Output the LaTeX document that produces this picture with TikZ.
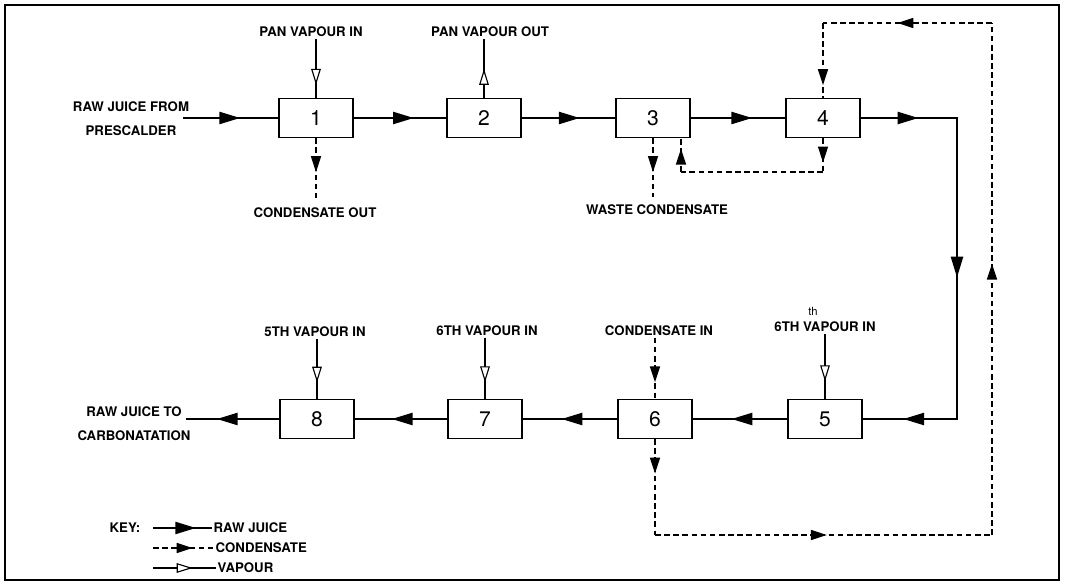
\documentclass[tikz,border=0pt]{standalone}
\usepackage{fontspec}
\setmainfont{TeX Gyre Heros}
\usepackage{tikz}
\usetikzlibrary{arrows.meta,decorations.markings,positioning}

\begin{document}
\begin{tikzpicture}[
    x=0.025cm, y=-0.025cm,
    every node/.style={font=\fontsize{9.4}{17}\selectfont\bfseries, inner sep=1pt},
    unit/.style={draw, line width=1pt, minimum width=1.85cm, minimum height=0.97cm,
        inner sep=0pt, font=\fontsize{15}{17}\selectfont},
    juice/.style={line width=1.6pt, postaction={decorate},
        decoration={markings, mark=at position #1 with {\arrow{Triangle[length=0.52cm,width=0.3cm]}}}},
    juice/.default=0.62,
    cond/.style={line width=1.1pt, dash pattern=on 4pt off 2.5pt, postaction={decorate},
        decoration={markings, mark=at position #1 with {\arrow{Triangle[length=0.4cm,width=0.25cm]}}}},
    cond/.default=0.5,
    vap/.style={line width=0.8pt, postaction={decorate},
        decoration={markings, mark=at position #1 with {\arrow{Triangle[fill=white,length=0.4cm,width=0.24cm,line width=0.8pt]}}}},
    vap/.default=0.78
]
\useasboundingbox (0,0) rectangle (1066,583);
\draw[line width=1.2pt] (5,5) rectangle (1059,580);

% Evaporator units, top row
\node[unit] (b1) at (316,118) {1};
\node[unit] (b2) at (484,118) {2};
\node[unit] (b3) at (653,118) {3};
\node[unit] (b4) at (823,118) {4};
% bottom row
\node[unit] (b5) at (825,419) {5};
\node[unit] (b6) at (655,419) {6};
\node[unit] (b7) at (485,419) {7};
\node[unit] (b8) at (317,419) {8};

% Raw juice in and out
\node[align=center] (rjin) at (131,119) {RAW JUICE FROM\\PRESCALDER};
\coordinate (in) at (183,118);
\node[align=center] (rjout) at (134,424) {RAW JUICE TO\\CARBONATATION};
\coordinate (out) at (186,419);

% Raw juice line
\coordinate (c1) at (957,118);
\coordinate (c2) at (957,419);
\draw[juice=0.6] (in) -- (b1.west);
\draw[juice=0.65] (b1.east) -- (b2.west);
\draw[juice] (b2.east) -- (b3.west);
\draw[juice=0.65] (b3.east) -- (b4.west);
\draw[juice=0.6] (b4.east) -- (c1);
\draw[juice=0.53, line cap=rect] (c1) -- (c2);
\draw[juice=0.57] (c2) -- (b5.east);
\draw[juice=0.59] (b5.west) -- (b6.east);
\draw[juice=0.59] (b6.west) -- (b7.east);
\draw[juice=0.6] (b7.west) -- (b8.east);
\draw[juice=0.67] (b8.west) -- (out);

% Vapour and condensate, top row
\node (pvin) at (311,32) {PAN VAPOUR IN};
\draw[vap] (pvin.south -| b1) -- (b1.north);
\node (pvout) at (490,32) {PAN VAPOUR OUT};
\draw[vap=0.49] (b2.north) -- (pvout.south -| b2);
\node (cout) at (315,213) {CONDENSATE OUT};
\draw[cond, shorten >=0.2cm] (b1.south) -- (cout.north -| b1);
\node (waste) at (657,210) {WASTE CONDENSATE};
\draw[cond=0.52, shorten >=0.15cm] (b3.south) -- (waste.north -| b3);

% Condensate from 4 back to 3
\coordinate (r1) at (823,172);
\coordinate (r2) at (681,172);
\draw[cond=0.72] (b4.south) -- (r1);
\draw[line width=1.1pt, dash pattern=on 4pt off 2.5pt] (r1) -- (r2);
\draw[cond=0.69] (r2) -- (r2 |- b3.south);

% Vapour and condensate, bottom row
\node (v8) at (315,332) {5TH VAPOUR IN};
\draw[vap=0.73] (v8.south -| b8) -- (b8.north);
\node (v7) at (487,331) {6TH VAPOUR IN};
\draw[vap=0.73] (v7.south -| b7) -- (b7.north);
\node (cin) at (659,331) {CONDENSATE IN};
\draw[cond=0.73] (cin.south -| b6) -- (b6.north);
\node[font=\fontsize{8}{9}\selectfont] (th) at (813,311) {th};
\node (v5) at (825,327) {6TH VAPOUR IN};
\draw[vap=0.73] (v5.south -| b5) -- (b5.north);

% Condensate loop from 6 round to 4
\coordinate (t1) at (823,23);
\coordinate (t2) at (992,23);
\coordinate (t3) at (992,535);
\coordinate (t4) at (655,535);
\draw[cond=0.36] (b6.south) -- (t4);
\draw[cond=0.51] (t4) -- (t3);
\draw[cond=0.53] (t3) -- (t2);
\draw[cond=0.56] (t2) -- (t1);
\draw[cond=0.83] (t1) -- (b4.north);

% Key
\node[anchor=west] (key) at (108,528) {KEY:};
\node[anchor=west] (kj) at (212,528) {RAW JUICE};
\node[anchor=west] (kc) at (214,548) {CONDENSATE};
\node[anchor=west] (kv) at (216,568) {VAPOUR};
\coordinate (k1) at (153,528);
\coordinate (k2) at (153,548);
\coordinate (k3) at (153,568);
\draw[juice=0.73] (k1) -- (kj.west);
\draw[cond=0.65] (k2) -- (kc.west);
\draw[vap=0.63] (k3) -- (kv.west);
\end{tikzpicture}
\end{document}
